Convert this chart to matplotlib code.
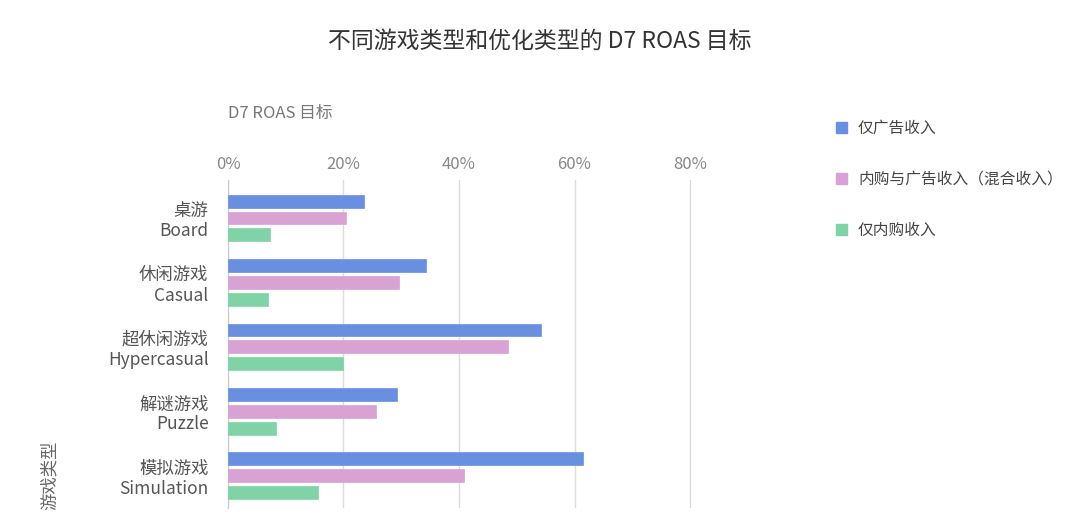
import numpy as np
import matplotlib
matplotlib.use("Agg")
import matplotlib.pyplot as plt
from matplotlib.patches import Patch

plt.rcParams['font.family'] = ['Noto Sans CJK SC', 'DejaVu Sans']

categories = ["桌游\nBoard", "休闲游戏\nCasual", "超休闲游戏\nHypercasual",
              "解谜游戏\nPuzzle", "模拟游戏\nSimulation"]
series_names = ["仅广告收入", "内购与广告收入（混合收入）", "仅内购收入"]
ads_only = [23.6, 34.3, 54.2, 29.3, 61.5]
hybrid = [20.5, 29.6, 48.4, 25.6, 40.8]
iap_only = [7.3, 6.9, 20.0, 8.3, 15.5]
xticks = [0, 20, 40, 60, 80]
xtick_labels = ["0%", "20%", "40%", "60%", "80%"]

colors = ["#6990e0", "#d9a2d4", "#80d3a6"]

fig = plt.figure(figsize=(10.8, 5.3), dpi=100)
# 0% at x=228, 80% at x=690
ax = fig.add_axes([0.2111, 0.0415, 0.4278 * 81 / 80, 0.619])

y = np.arange(len(categories))
h = 0.2
off = 0.262
for k, vals in enumerate([ads_only, hybrid, iap_only]):
    ax.barh(y + (k - 1) * off, vals, height=h, color=colors[k],
            edgecolor=colors[k], linewidth=0.5, zorder=3)

ax.set_xlim(0, 81)
ax.set_ylim(4.5, -0.59)
ax.set_xticks(xticks)
ax.set_xticklabels(xtick_labels)
ax.xaxis.tick_top()
ax.tick_params(axis='x', length=0, pad=5, labelsize=12, labelcolor="#888888")
ax.set_yticks(y)
ax.set_yticklabels(categories, fontsize=12.5, color="#555555", linespacing=1.15)
ax.tick_params(axis='y', length=0, pad=14)
ax.grid(axis='x', color="#dcdcdc", linewidth=1, zorder=0)
for s in ["top", "right", "bottom"]:
    ax.spines[s].set_visible(False)
ax.spines["left"].set_color("#c8c8c8")

fig.text(0.5, 0.922, "不同游戏类型和优化类型的 D7 ROAS 目标", ha="center", va="center",
         fontsize=16.5, color="#333333")
fig.text(228 / 1080, 1 - 113 / 530, "D7 ROAS 目标", ha="left", va="center",
         fontsize=12, color="#777777")
fig.text(50 / 1080, 1 - 510 / 530, "游戏类型", ha="center", va="bottom",
         rotation=90, fontsize=12.5, color="#666666")

handles = [Patch(facecolor=c, edgecolor=c) for c in colors]
fig.legend(handles, series_names, loc="upper left",
           bbox_to_anchor=(822 / 1080, 1 - 106 / 530), frameon=False,
           fontsize=11.3, labelspacing=2.15, handlelength=0.7, handleheight=0.7,
           handletextpad=0.7, labelcolor="#444444")

fig.savefig("out.png", dpi=100)
